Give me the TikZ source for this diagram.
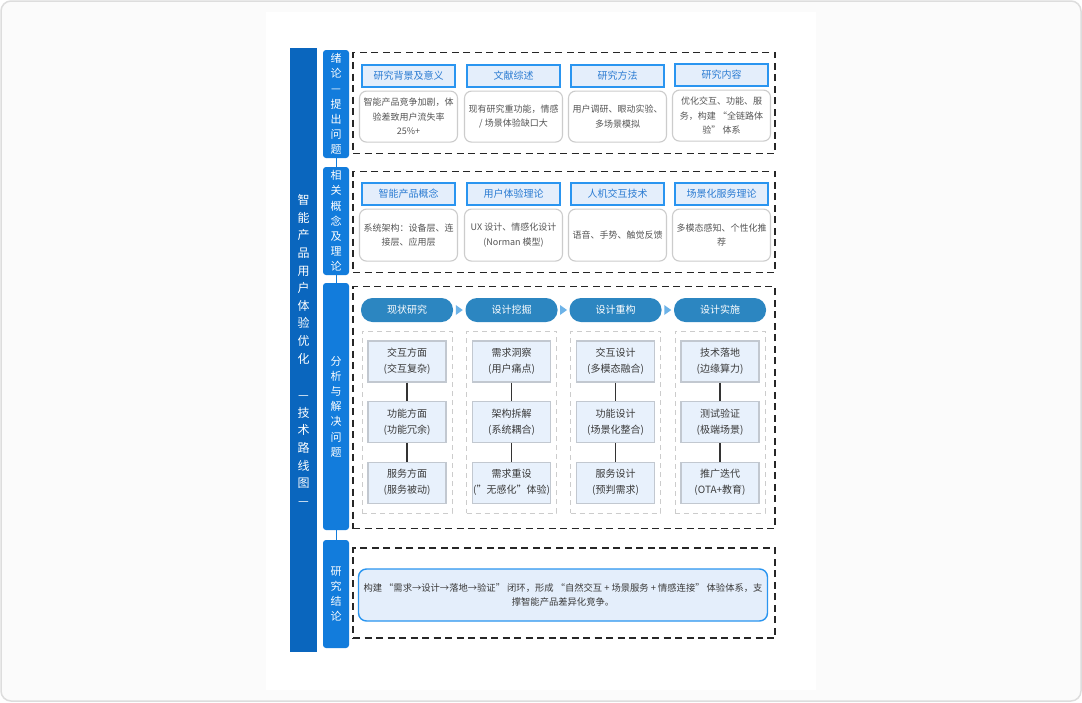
\documentclass[tikz,border=0pt]{standalone}
\usepackage{fontspec}
\setmainfont{Noto Sans CJK SC}
\usetikzlibrary{
  positioning,
  calc
  }
\definecolor{pagebg}{HTML}{FBFBFB}
\definecolor{pageline}{HTML}{DDDDDD}
\definecolor{mainblue}{RGB}{10,102,190}
\definecolor{secblue}{RGB}{18,124,220}
\definecolor{headfill}{HTML}{E4EEFB}
\definecolor{headline}{HTML}{2A95F0}
\definecolor{headtext}{HTML}{2A7BD2}
\definecolor{cardline}{HTML}{CCCCCC}
\definecolor{cardtext}{HTML}{555555}
\definecolor{pillblue}{RGB}{44,134,193}
\definecolor{tipblue}{HTML}{6DB3E8}
\definecolor{cellfill}{HTML}{E8F1FC}
\definecolor{cellline}{HTML}{C2C8D0}
\definecolor{celltext}{HTML}{3A3A3A}
\tikzset{
  mainbar/.style={fill=mainblue, text=white, minimum width=27pt, inner sep=0pt,
    align=center, font=\fontsize{12}{17.6}\selectfont},
  secbar/.style={fill=secblue, text=white, minimum width=26pt, inner sep=0pt,
    rounded corners=3pt, align=center, font=\fontsize{11}{15.2}\selectfont},
  frame/.style={draw=black!85, line width=1.2pt, dash pattern=on 7pt off 4.5pt,
    minimum width=422pt, inner sep=0pt},
  head/.style={draw=headline, fill=headfill, text=headtext, line width=1.1pt,
    minimum width=93pt, minimum height=22pt, inner sep=0pt,
    font=\fontsize{10}{12}\selectfont},
  card/.style={draw=cardline, fill=white, text=cardtext, line width=1.1pt,
    rounded corners=7pt, minimum width=98pt, inner sep=1pt, align=center,
    font=\fontsize{9}{14.5}\selectfont},
  pill/.style={fill=pillblue, text=white, rounded corners=11.5pt,
    minimum width=92pt, minimum height=24pt, inner sep=0pt,
    font=\fontsize{10}{12}\selectfont},
  column/.style={draw=cardline, line width=1pt, dash pattern=on 5pt off 4pt,
    minimum width=90pt, minimum height=182pt, inner sep=0pt},
  cell/.style={draw=cellline, fill=cellfill, text=celltext, line width=1.1pt,
    minimum width=78pt, minimum height=41pt, inner sep=0pt, align=center,
    font=\fontsize{10}{16}\selectfont},
  stem/.style={draw=black!80, line width=1.3pt},
  link/.style={draw=secblue, line width=1pt},
  result/.style={draw=headline, fill=headfill, text=celltext, line width=1.4pt,
    rounded corners=8pt, minimum width=409pt, minimum height=52pt, inner sep=0pt,
    align=center, font=\fontsize{9.3}{14}\selectfont},
}

\begin{document}
\begin{tikzpicture}[x=1pt, y=-1pt]
  \useasboundingbox (0,0) rectangle (1082,702);
  \draw[pageline, fill=pagebg, line width=1.5pt, rounded corners=10pt] (1,1) rectangle (1081,701);
  \fill[white] (266,12) rectangle (816,690);
% =========================================================
% (A) title bar and section bars
% =========================================================
  \node[mainbar, minimum height=604pt] (main) at (303.5,350)
    {智\\能\\产\\品\\用\\户\\体\\验\\优\\化\\[19pt]—\\技\\术\\路\\线\\图\\—};
  \node[secbar, minimum height=108pt] (s1) at (336,104) {绪\\论\\—\\提\\出\\问\\题};
  \node[secbar, minimum height=108pt] (s2) at (336,221) {相\\关\\概\\念\\及\\理\\论};
  \node[secbar, minimum height=247pt] (s3) at (336,406.5) {分\\析\\与\\解\\决\\问\\题};
  \node[secbar, minimum height=108pt] (s4) at (336,594) {研\\究\\结\\论};
  \draw[link] (s1.south) -- (s2.north);
  \draw[link] (s2.south) -- (s3.north);
  \draw[link] (s3.south) -- (s4.north);
% =========================================================
% (B) introduction
% =========================================================
  \node[frame, minimum height=101pt] (f1) at (564,103) {};
  \node[head] (h11) at (408.5,76) {研究背景及意义};
  \node[head] (h12) at (513.5,76) {文献综述};
  \node[head] (h13) at (617.5,76) {研究方法};
  \node[head] (h14) at (721.5,75) {研究内容};
  \node[card, minimum height=51pt, below=3pt of h11] (b11) {智能产品竞争加剧，体\\验差致用户流失率\\25\%+};
  \node[card, minimum height=51pt, below=3pt of h12] (b12) {现有研究重功能，情感\\/ 场景体验缺口大};
  \node[card, minimum height=51pt, below=3pt of h13] (b13) {用户调研、眼动实验、\\多场景模拟};
  \node[card, minimum height=51pt, below=3pt of h14] (b14) {优化交互、功能、服\\务，构建 “全链路体\\验” 体系};
% =========================================================
% (C) concepts and theory
% =========================================================
  \node[frame, minimum height=101pt] (f2) at (564,222) {};
  \node[head] (h21) at (408.5,194) {智能产品概念};
  \node[head] (h22) at (513.5,194) {用户体验理论};
  \node[head] (h23) at (617.5,194) {人机交互技术};
  \node[head] (h24) at (721.5,194) {场景化服务理论};
  \node[card, minimum height=52pt, below=3pt of h21] (b21) {系统架构：设备层、连\\接层、应用层};
  \node[card, minimum height=52pt, below=3pt of h22] (b22) {UX 设计、情感化设计\\(Norman 模型)};
  \node[card, minimum height=52pt, below=3pt of h23] (b23) {语音、手势、触觉反馈};
  \node[card, minimum height=52pt, below=3pt of h24] (b24) {多模态感知、个性化推\\荐};
% =========================================================
% (D) analysis and solution
% =========================================================
  \node[frame, minimum height=242pt] (f3) at (564,407.5) {};
  \node[pill] (p1) at (407,310) {现状研究};
  \node[pill] (p2) at (511.5,310) {设计挖掘};
  \node[pill] (p3) at (615.5,310) {设计重构};
  \node[pill] (p4) at (720,310) {设计实施};
  \fill[tipblue] ($(p1.east)!0.5!(p2.west)$) ++(-3.5,-5) -- ++(7,5) -- ++(-7,5) -- cycle;
  \fill[tipblue] ($(p2.east)!0.5!(p3.west)$) ++(-3.5,-5) -- ++(7,5) -- ++(-7,5) -- cycle;
  \fill[tipblue] ($(p3.east)!0.5!(p4.west)$) ++(-3.5,-5) -- ++(7,5) -- ++(-7,5) -- cycle;
  \node[column] (c1) at (407,422) {};
  \node[column] (c2) at (511.5,422) {};
  \node[column] (c3) at (615.5,422) {};
  \node[column] (c4) at (720,422) {};
  % column 1
  \node[cell] (a1) at (407,361.5) {交互方面\\(交互复杂)};
  \node[cell, below=18.5pt of a1] (a2) {功能方面\\(功能冗余)};
  \node[cell, below=18.5pt of a2] (a3) {服务方面\\(服务被动)};
  % column 2
  \node[cell] (d1) at (511.5,361.5) {需求洞察\\(用户痛点)};
  \node[cell, below=18.5pt of d1] (d2) {架构拆解\\(系统耦合)};
  \node[cell, below=18.5pt of d2] (d3) {需求重设\\(\symbol{34}无感化\symbol{34}体验)};
  % column 3
  \node[cell] (r1) at (615.5,361.5) {交互设计\\(多模态融合)};
  \node[cell, below=18.5pt of r1] (r2) {功能设计\\(场景化整合)};
  \node[cell, below=18.5pt of r2] (r3) {服务设计\\(预判需求)};
  % column 4
  \node[cell] (i1) at (720,361.5) {技术落地\\(边缘算力)};
  \node[cell, below=18.5pt of i1] (i2) {测试验证\\(极端场景)};
  \node[cell, below=18.5pt of i2] (i3) {推广迭代\\(OTA+教育)};
  \draw[stem] (a1) -- (a2);
  \draw[stem] (a2) -- (a3);
  \draw[stem] (d1) -- (d2);
  \draw[stem] (d2) -- (d3);
  \draw[stem] (r1) -- (r2);
  \draw[stem] (r2) -- (r3);
  \draw[stem] (i1) -- (i2);
  \draw[stem] (i2) -- (i3);
% =========================================================
% (E) conclusion
% =========================================================
  \node[frame, minimum height=90pt] (f4) at (564,593) {};
  \node[result] (res) at (563,595)
    {构建 “需求→设计→落地→验证” 闭环，形成 “自然交互 + 场景服务 + 情感连接” 体验体系，支\\撑智能产品差异化竞争。};
\end{tikzpicture}
\end{document}
